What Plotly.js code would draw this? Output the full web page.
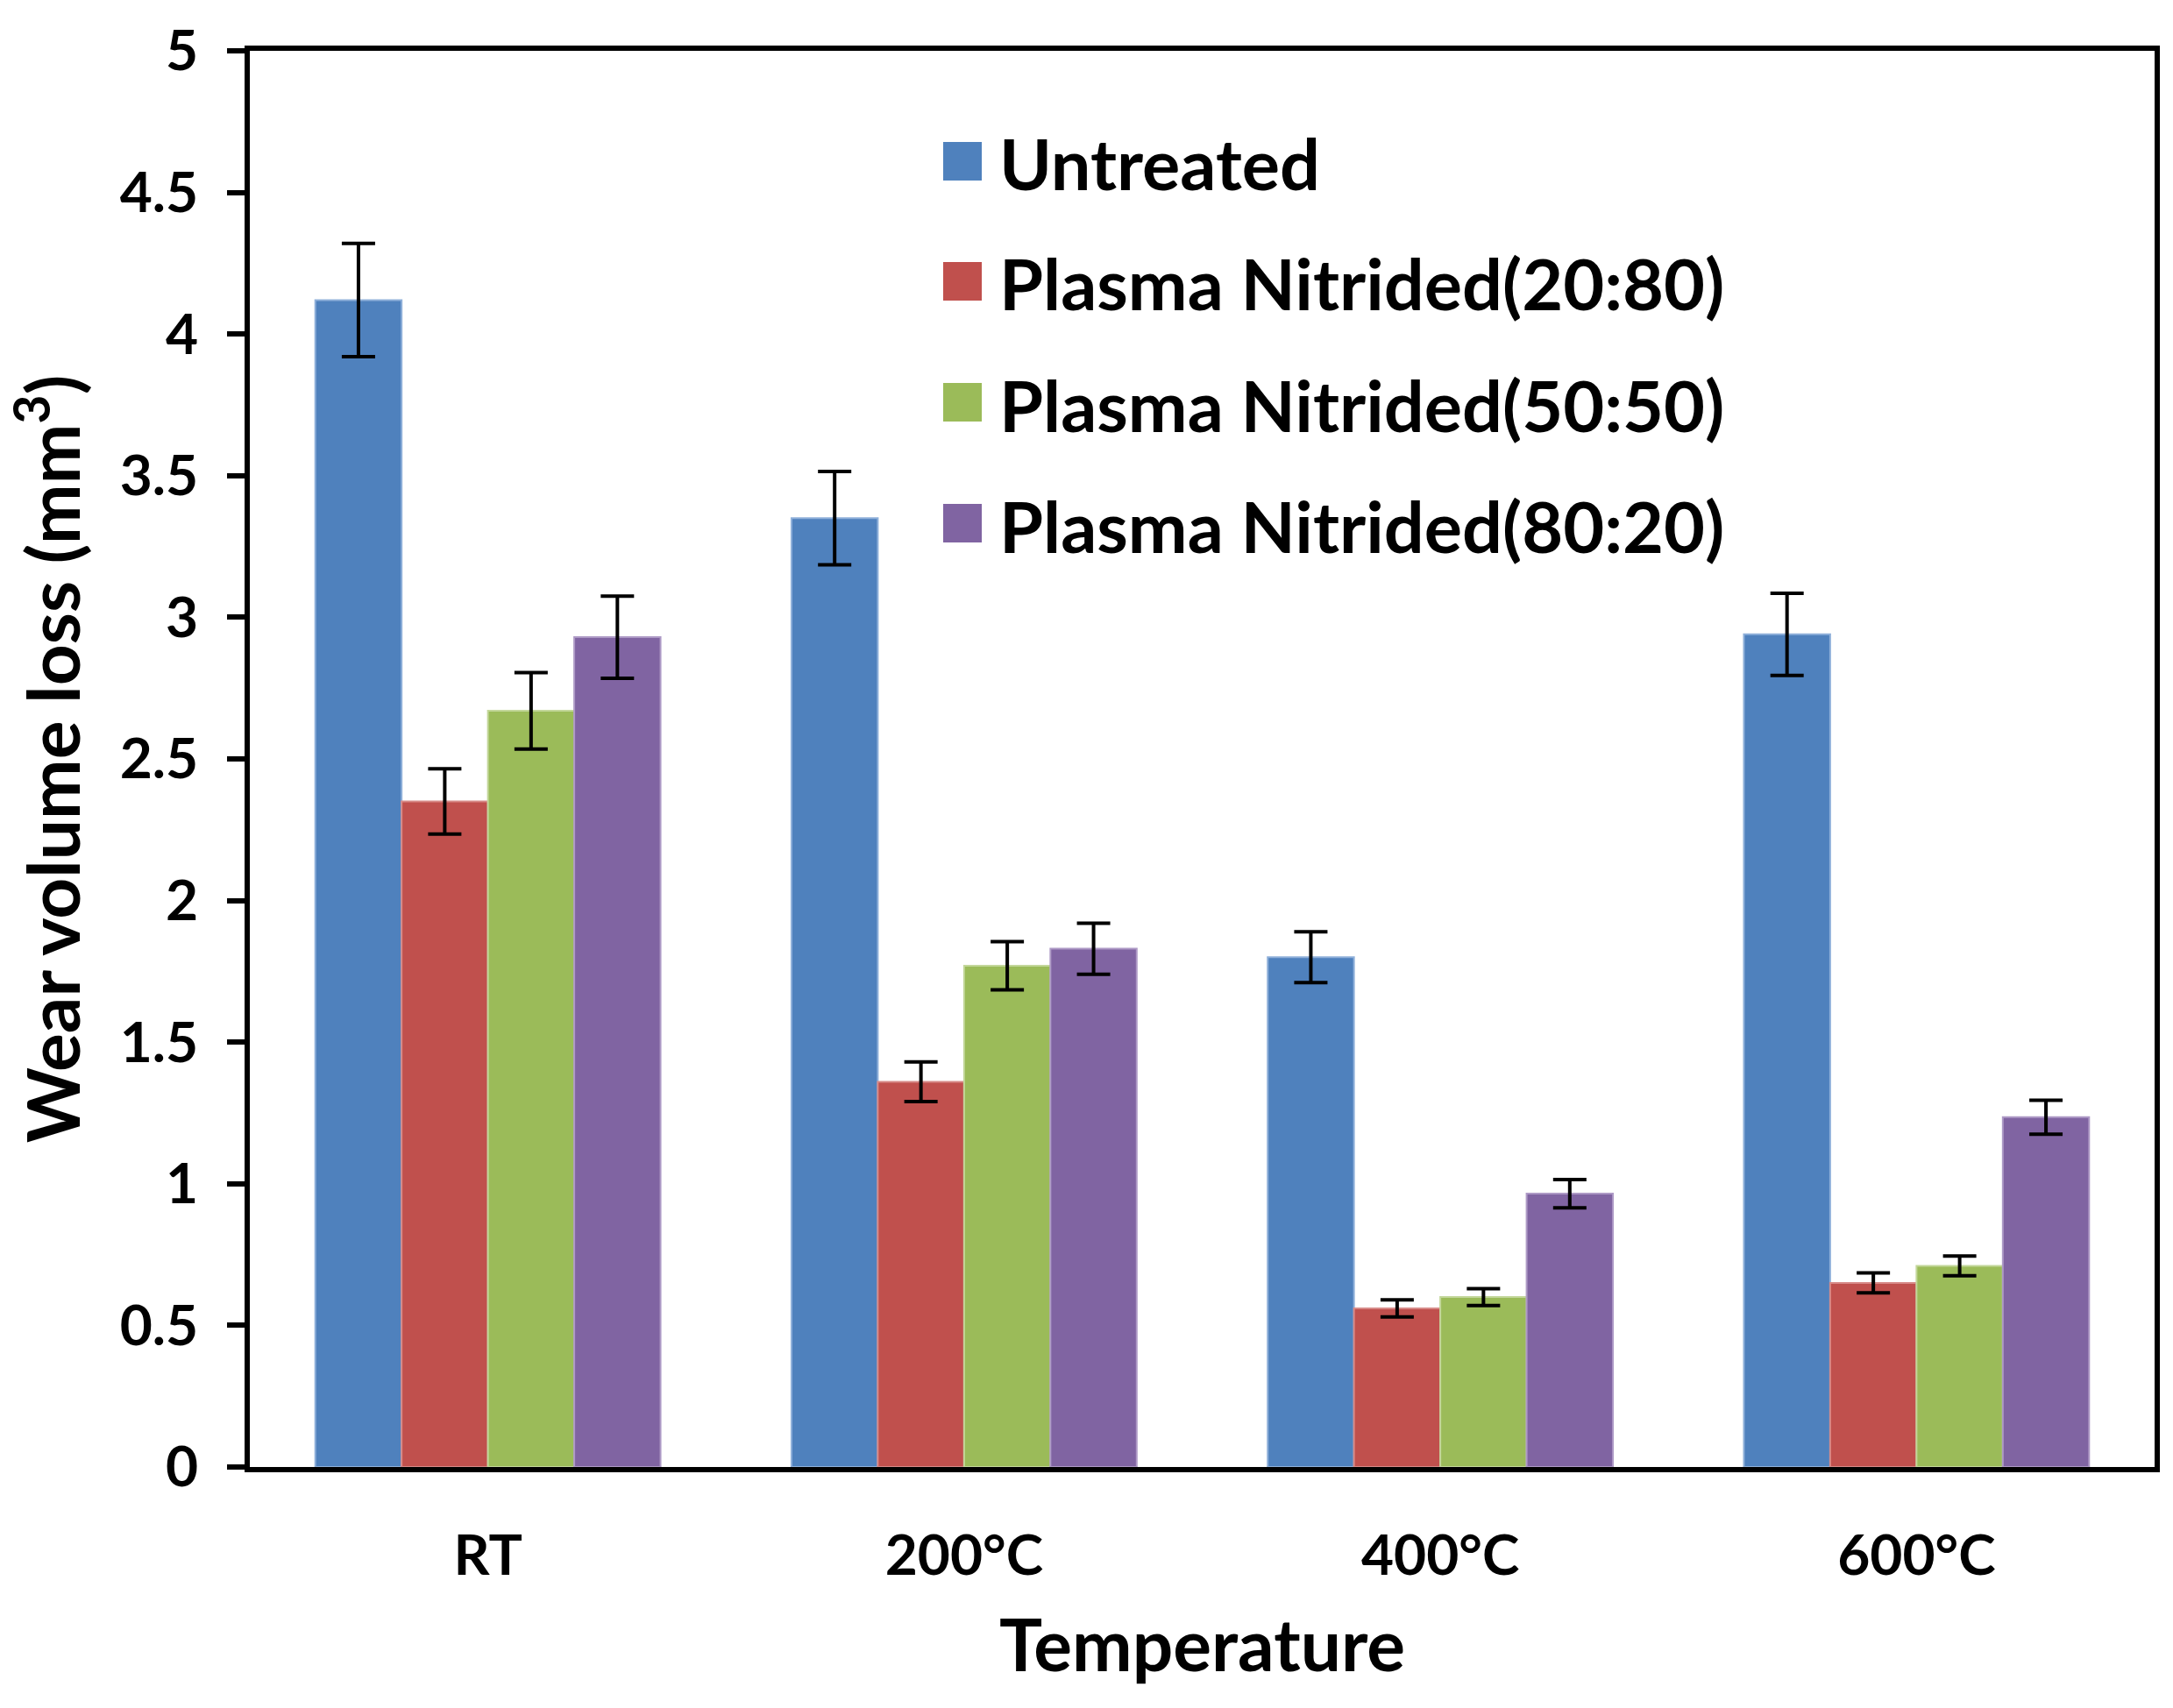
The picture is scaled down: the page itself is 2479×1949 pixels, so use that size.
<!DOCTYPE html>
<html>
<head>
<meta charset="utf-8">
<script src="https://cdn.plot.ly/plotly-3.0.1.min.js"></script>
<style>html,body{margin:0;padding:0;background:#fff;} #chart{width:2479px;height:1949px;}</style>
</head>
<body>
<div id="chart"></div>
<script>
// ---- data ----
const categories = ["RT", "200°C", "400°C", "600°C"];
const seriesNames = ["Untreated", "Plasma Nitrided(20:80)", "Plasma Nitrided(50:50)", "Plasma Nitrided(80:20)"];
const untreated = [4.12, 3.35, 1.80, 2.94];
const pn2080 = [2.35, 1.36, 0.56, 0.65];
const pn5050 = [2.67, 1.77, 0.60, 0.71];
const pn8020 = [2.93, 1.83, 0.965, 1.235];
const errUntreated = [0.20, 0.165, 0.09, 0.145];
const err2080 = [0.115, 0.07, 0.03, 0.035];
const err5050 = [0.135, 0.085, 0.03, 0.035];
const err8020 = [0.145, 0.09, 0.05, 0.06];
const yTickVals = [0, 0.5, 1, 1.5, 2, 2.5, 3, 3.5, 4, 4.5, 5];
const yTickText = ["0", "0.5", "1", "1.5", "2", "2.5", "3", "3.5", "4", "4.5", "5"];

// ---- styles ----
const colors = ["#4F81BD", "#C0504D", "#9BBB59", "#8064A2"];
const edgeColors = ["#8FB0DA", "#D78A88", "#C3D79A", "#AE9AC6"];
const values = [untreated, pn2080, pn5050, pn8020];
const errors = [errUntreated, err2080, err5050, err8020];
const FONT = "Lato, 'Open Sans', sans-serif";

const W = 2479, H = 1949;
const mL = 285, mR = 21, mT = 58, mB = 275;
const plotW = W - mL - mR, plotH = H - mT - mB;

const traces = seriesNames.map((name, i) => ({
  type: "bar",
  name: name,
  x: categories,
  y: values[i],
  marker: { color: colors[i], line: { color: edgeColors[i], width: 2 } },
  error_y: { type: "data", array: errors[i], visible: true, color: "#000", thickness: 4, width: 19 },
  showlegend: false,
  hoverinfo: "skip"
}));

// legend built from shapes + annotations (pixel positions converted to paper)
const px2x = p => (p - mL) / plotW;
const px2y = p => (H - mB - p) / plotH;
const legRows = [184, 321, 459, 597];
const shapes = [];
const annotations = [];
seriesNames.forEach((name, i) => {
  const cy = legRows[i];
  shapes.push({
    type: "rect", xref: "paper", yref: "paper",
    x0: px2x(1076), x1: px2x(1120), y0: px2y(cy + 22), y1: px2y(cy - 22),
    fillcolor: colors[i], line: { width: 0 }
  });
  annotations.push({
    xref: "paper", yref: "paper", x: px2x(1138), y: px2y(cy + 2),
    xanchor: "left", yanchor: "middle", showarrow: false,
    text: name, font: { family: FONT, size: 81, color: "#000", weight: 700 }
  });
});

const layout = {
  width: W, height: H,
  margin: { l: mL, r: mR, t: mT, b: mB, pad: 0 },
  paper_bgcolor: "#fff", plot_bgcolor: "#fff",
  barmode: "group", bargap: 0.275, bargroupgap: 0,
  showlegend: false,
  font: { family: FONT, color: "#000", weight: 700 },
  xaxis: {
    type: "category",
    showline: true, linecolor: "#000", linewidth: 6, mirror: true,
    ticks: "", showgrid: false, zeroline: false,
    tickfont: { family: FONT, size: 64, color: "#000", weight: 700 },
    ticklabelstandoff: 40,
    title: { text: "Temperature", font: { family: FONT, size: 82, color: "#000", weight: 700 }, standoff: 42 }
  },
  yaxis: {
    range: [0, 5], autorange: false,
    tickvals: yTickVals, ticktext: yTickText,
    showline: true, linecolor: "#000", linewidth: 6, mirror: true,
    ticks: "outside", ticklen: 20, tickwidth: 6, tickcolor: "#000",
    showgrid: false, zeroline: false,
    tickfont: { family: FONT, size: 64, color: "#000", weight: 700 },
    ticklabelstandoff: 20,
    title: { text: "Wear volume loss (mm<sup>3</sup>)", font: { family: FONT, size: 82, color: "#000", weight: 700 }, standoff: 30 }
  },
  shapes: shapes,
  annotations: annotations
};

Plotly.newPlot("chart", traces, layout, { staticPlot: true, displayModeBar: false });
</script>
</body>
</html>
